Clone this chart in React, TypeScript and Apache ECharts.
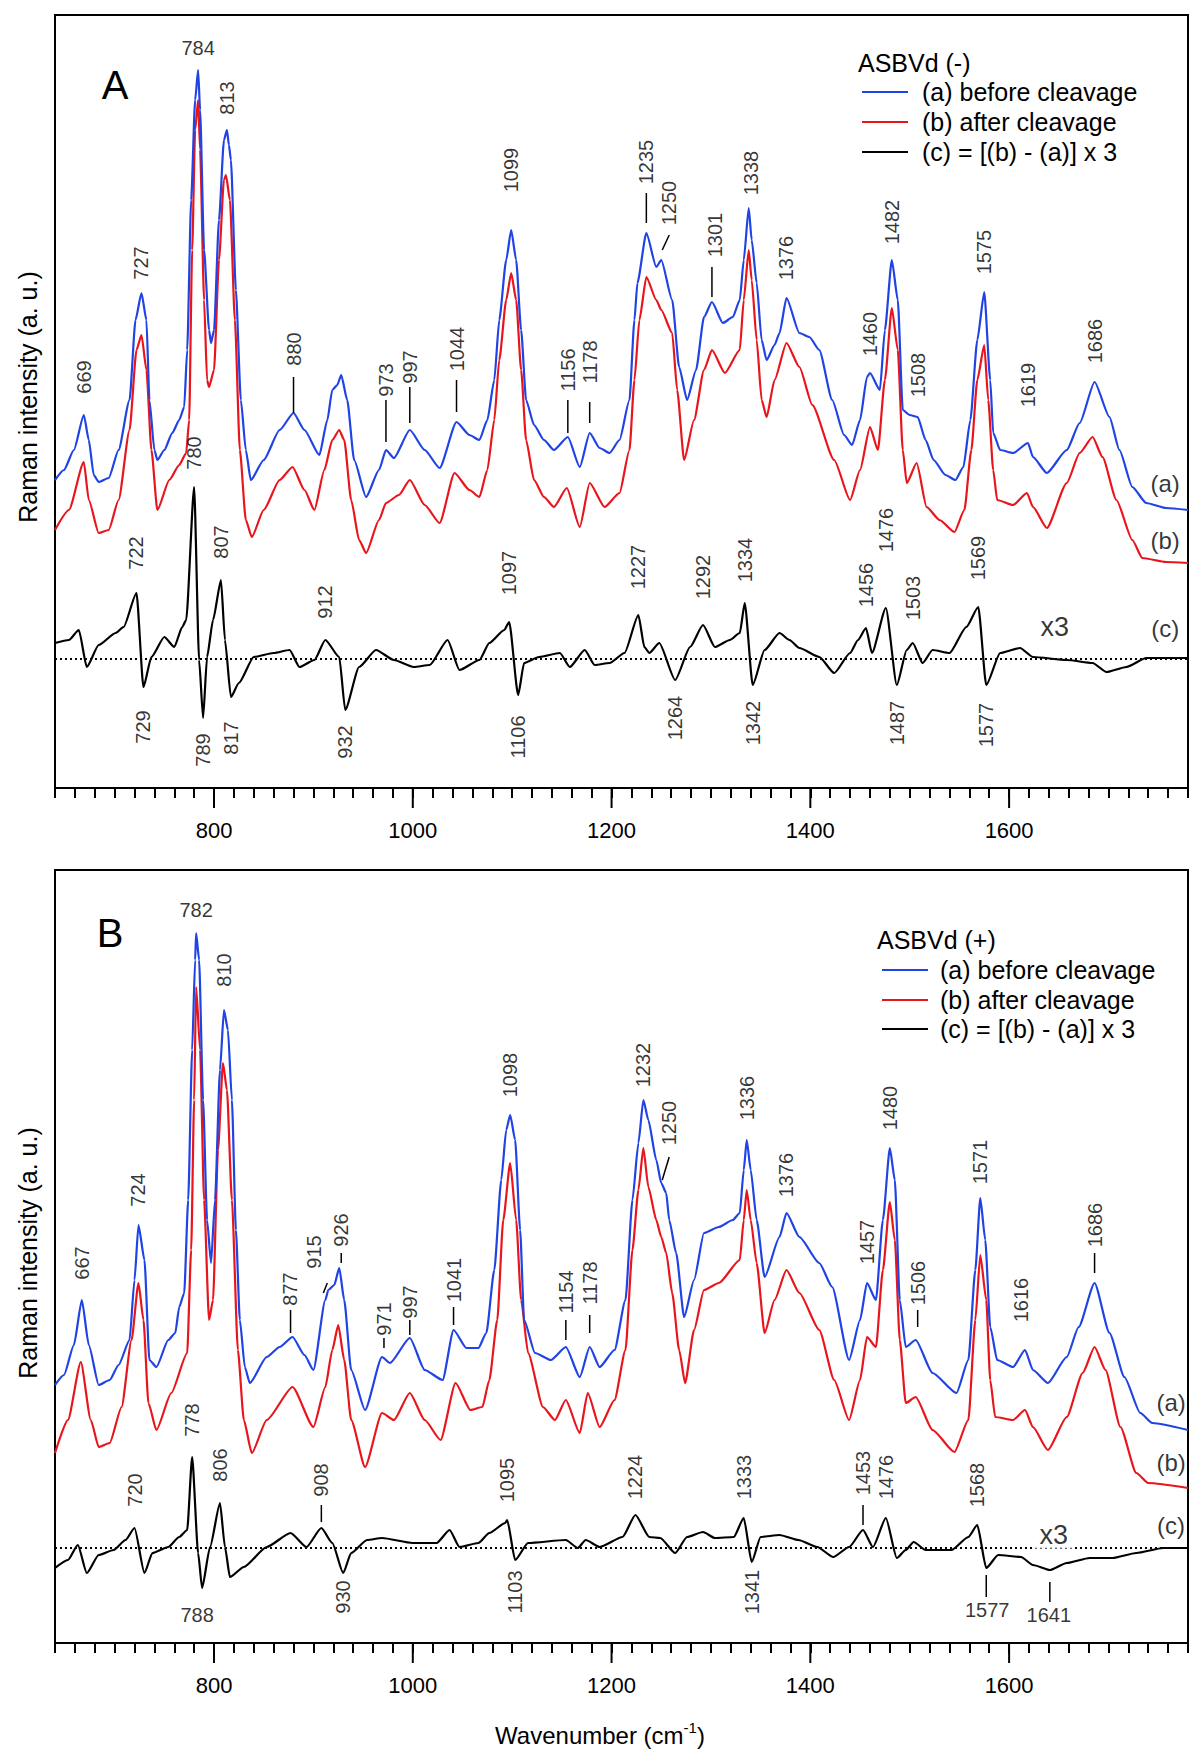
import React, { useEffect, useRef } from "react";
import * as echarts from "echarts";

type Pt = [number, number];
type Lbl = [number, number, string];
type Seg = [number, number, number, number];

const X_MIN = 640;
const X_MAX = 1780;
const X_MINOR_STEP = 20;
const X_MAJOR_TICKS = [800, 1000, 1200, 1400, 1600];
const Y_MAX = 773;

const BLUE = "#1f43e4";
const RED = "#e8161c";
const BLACK = "#000000";
const FONT = "'Liberation Sans', Arial, Helvetica, sans-serif";

const LEGEND_NAMES = ["(a) before cleavage", "(b) after cleavage", "(c) = [(b) - (a)] x 3"];
const PANEL_TITLES = ["ASBVd (-)", "ASBVd (+)"];
const PANEL_LETTERS = ["A", "B"];

// ---------------- Panel A (ASBVd (-)) ----------------
const A_BEFORE: Pt[] = [[640,308],[649,318],[659,338],[669,373],[674,348],[679,313],[684,306],[694,310],[704,338],[715,388],[721,468],[727,495],[732,468],[735,388],[740,338],[743,328],[750,338],[758,355],[765,368],[770,381],[773,438],[777,588],[781,688],[784,718],[786,678],[790,538],[795,458],[797,445],[800,458],[805,568],[810,648],[813,658],[815,643],[817,628],[822,498],[827,388],[832,338],[837,308],[850,328],[866,358],[880,375],[891,358],[906,333],[914,368],[919,398],[924,403],[928,413],[934,388],[941,328],[953,291],[966,318],[973,338],[981,330],[997,358],[1012,338],[1027,320],[1044,366],[1057,353],[1067,348],[1075,368],[1082,408],[1087,468],[1094,528],[1099,558],[1104,528],[1109,458],[1114,388],[1122,363],[1132,348],[1142,338],[1156,351],[1168,321],[1178,355],[1188,340],[1198,335],[1208,348],[1218,388],[1223,468],[1226,505],[1235,555],[1245,521],[1250,528],[1261,488],[1268,421],[1276,388],[1285,418],[1293,471],[1301,486],[1312,465],[1322,471],[1329,488],[1333,528],[1338,580],[1341,548],[1346,505],[1351,448],[1356,428],[1364,443],[1369,455],[1376,490],[1389,455],[1399,451],[1409,438],[1422,388],[1434,353],[1442,343],[1450,368],[1457,411],[1460,415],[1470,398],[1475,458],[1482,528],[1488,488],[1493,378],[1500,373],[1508,371],[1516,348],[1524,328],[1536,313],[1546,308],[1554,321],[1561,368],[1568,448],[1575,496],[1581,408],[1584,355],[1591,338],[1604,335],[1619,345],[1624,331],[1638,315],[1658,338],[1671,365],[1686,406],[1701,371],[1711,338],[1724,301],[1738,285],[1758,280],[1780,278]];

const A_AFTER: Pt[] = [[640,258],[654,278],[669,326],[674,288],[684,255],[694,258],[704,288],[715,358],[722,438],[727,453],[732,418],[737,338],[743,278],[755,308],[765,323],[772,335],[775,368],[778,538],[781,658],[784,688],[786,638],[790,488],[793,408],[795,401],[800,418],[805,528],[810,608],[812,613],[816,588],[821,468],[826,338],[832,268],[838,251],[850,278],[866,308],[879,321],[891,298],[901,278],[911,318],[919,348],[926,358],[931,348],[938,288],[946,248],[953,235],[966,268],[973,285],[986,293],[997,308],[1012,283],[1027,265],[1042,315],[1057,298],[1067,291],[1075,318],[1082,368],[1087,428],[1094,488],[1099,515],[1104,488],[1109,418],[1114,348],[1122,308],[1132,291],[1142,281],[1155,300],[1168,261],[1178,305],[1193,281],[1208,295],[1218,338],[1223,408],[1228,468],[1235,511],[1245,488],[1250,478],[1261,455],[1266,398],[1273,328],[1283,368],[1293,418],[1301,438],[1314,415],[1329,438],[1333,488],[1338,538],[1341,508],[1346,448],[1351,388],[1356,371],[1364,408],[1376,445],[1389,421],[1402,383],[1424,328],[1440,288],[1450,318],[1460,361],[1468,338],[1475,408],[1482,480],[1488,438],[1493,338],[1497,305],[1507,325],[1517,281],[1530,268],[1545,256],[1555,278],[1562,338],[1568,408],[1575,443],[1579,388],[1584,318],[1588,288],[1604,283],[1618,295],[1624,281],[1638,260],[1658,305],[1671,335],[1684,351],[1694,331],[1708,288],[1724,248],[1734,230],[1758,226],[1780,225]];

const A_DIFF: Pt[] = [[640,145],[654,148],[664,158],[672,121],[684,143],[701,155],[709,161],[722,195],[729,101],[737,131],[750,151],[760,141],[768,161],[772,168],[780,301],[785,128],[789,70],[793,131],[799,168],[807,208],[811,148],[817,91],[825,105],[840,131],[860,135],[876,138],[886,121],[901,128],[912,148],[926,131],[932,78],[946,121],[963,138],[981,128],[1001,121],[1017,123],[1035,148],[1047,118],[1067,128],[1077,145],[1092,158],[1097,166],[1106,93],[1112,125],[1127,131],[1148,135],[1158,121],[1173,138],[1183,123],[1198,125],[1213,135],[1227,173],[1233,141],[1238,135],[1248,145],[1264,108],[1279,141],[1292,163],[1304,141],[1319,148],[1329,155],[1334,185],[1342,103],[1354,138],[1369,155],[1379,148],[1389,140],[1409,131],[1424,115],[1440,135],[1448,148],[1456,160],[1462,135],[1476,180],[1487,103],[1497,138],[1503,145],[1513,125],[1523,138],[1540,135],[1557,161],[1569,181],[1577,103],[1591,135],[1611,140],[1624,131],[1658,128],[1684,125],[1698,116],[1718,121],[1738,130],[1780,130]];
const A_BASELINE = 129;

const A_LABELS_V: Lbl[] = [[669,411,"669"],[727,525,"727"],[813,690,"813"],[880,439,"880"],[973,408,"973"],[997,421,"997"],[1044,439,"1044"],[1099,618,"1099"],[1156,418,"1156"],[1178,426,"1178"],[1235,626,"1235"],[1258,585,"1250"],[1304,553,"1301"],[1340,615,"1338"],[1376,530,"1376"],[1460,454,"1460"],[1482,566,"1482"],[1508,413,"1508"],[1575,536,"1575"],[1619,403,"1619"],[1686,447,"1686"],
  [722,235,"722"],[780,335,"780"],[807,246,"807"],[912,186,"912"],[729,61,"729"],[789,38,"789"],[817,50,"817"],[932,46,"932"],[1097,215,"1097"],[1227,221,"1227"],[1292,211,"1292"],[1334,228,"1334"],[1106,51,"1106"],[1264,70,"1264"],[1342,65,"1342"],[1456,203,"1456"],[1476,258,"1476"],[1503,190,"1503"],[1569,230,"1569"],[1487,65,"1487"],[1577,63,"1577"]];
const A_LABELS_H: Lbl[] = [[784,740,"784"]];
const A_SEGS: Seg[] = [[880,411,880,375],[973,388,973,346],[997,401,997,365],[1044,408,1044,376],[1156,388,1156,355],[1178,386,1178,365],[1235,595,1235,565],[1258,553,1251,538],[1301,521,1301,491]];
const A_TAGS: Lbl[] = [[1757,305,"(a)"],[1757,248,"(b)"],[1757,160,"(c)"]];
const A_X3: Pt = [1646,161];

// ---------------- Panel B (ASBVd (+)) ----------------
const B_BEFORE: Pt[] = [[640,258],[649,268],[659,298],[667,343],[674,298],[684,258],[695,263],[704,278],[715,303],[720,363],[724,418],[730,383],[735,283],[742,276],[754,303],[761,310],[765,336],[770,350],[774,443],[778,593],[781,683],[782,710],[785,683],[789,543],[793,423],[797,380],[801,443],[806,573],[810,633],[814,613],[818,543],[822,413],[826,323],[831,276],[836,260],[853,286],[866,296],[879,306],[891,288],[900,273],[912,343],[915,353],[921,358],[926,375],[931,343],[938,273],[952,233],[969,286],[977,280],[997,305],[1012,273],[1030,263],[1041,313],[1054,295],[1066,295],[1074,310],[1082,373],[1089,463],[1094,513],[1098,528],[1103,503],[1108,413],[1112,323],[1123,290],[1139,283],[1154,296],[1168,266],[1178,296],[1188,276],[1203,293],[1214,343],[1221,443],[1227,500],[1232,543],[1237,523],[1245,483],[1250,460],[1255,450],[1258,423],[1265,390],[1273,326],[1283,363],[1293,410],[1308,416],[1322,423],[1329,430],[1333,473],[1336,503],[1340,473],[1346,423],[1354,366],[1369,406],[1376,430],[1389,406],[1409,380],[1422,356],[1439,283],[1450,323],[1457,360],[1466,343],[1473,423],[1480,495],[1485,463],[1490,343],[1496,296],[1506,303],[1523,270],[1547,250],[1559,283],[1566,373],[1571,445],[1576,403],[1581,316],[1588,283],[1604,276],[1616,293],[1624,273],[1639,260],[1658,286],[1670,316],[1686,360],[1701,310],[1716,266],[1732,230],[1744,220],[1780,213]];

const B_AFTER: Pt[] = [[640,190],[653,223],[666,281],[676,223],[684,196],[695,200],[707,236],[717,303],[724,360],[729,323],[734,240],[742,213],[757,250],[773,290],[777,393],[780,543],[782,656],[786,593],[790,443],[795,323],[799,343],[804,493],[809,580],[813,553],[818,443],[824,293],[830,223],[838,190],[853,223],[879,256],[900,216],[912,256],[919,293],[925,318],[931,283],[938,223],[952,176],[969,230],[981,223],[997,250],[1012,223],[1028,203],[1043,260],[1058,233],[1070,236],[1077,263],[1085,323],[1091,423],[1098,480],[1104,423],[1109,343],[1116,290],[1131,236],[1143,223],[1154,243],[1168,210],[1176,250],[1188,216],[1203,243],[1214,293],[1221,393],[1227,453],[1232,495],[1237,456],[1245,423],[1250,406],[1255,390],[1261,350],[1268,293],[1274,260],[1283,313],[1293,353],[1308,360],[1329,383],[1333,423],[1336,453],[1340,423],[1346,380],[1354,310],[1364,343],[1376,373],[1389,350],[1409,313],[1424,263],[1439,223],[1450,263],[1457,306],[1466,296],[1473,373],[1480,441],[1485,403],[1490,303],[1496,240],[1506,246],[1523,213],[1545,191],[1559,223],[1566,323],[1571,388],[1577,343],[1581,263],[1586,226],[1604,223],[1616,233],[1624,216],[1639,193],[1658,226],[1674,270],[1686,296],[1697,273],[1712,216],[1728,170],[1740,160],[1780,155]];

const B_DIFF: Pt[] = [[640,75],[653,83],[663,98],[672,70],[684,88],[699,93],[711,103],[720,115],[730,70],[738,90],[754,96],[765,106],[773,113],[778,186],[784,90],[788,55],[796,96],[806,140],[811,96],[816,66],[830,76],[853,96],[877,110],[893,96],[908,115],[919,100],[930,70],[938,90],[954,103],[969,105],[1000,100],[1024,100],[1037,113],[1047,96],[1066,100],[1077,110],[1093,120],[1095,123],[1103,83],[1116,100],[1154,103],[1166,95],[1174,103],[1188,96],[1211,106],[1224,128],[1238,106],[1249,105],[1264,90],[1276,106],[1292,111],[1304,105],[1323,106],[1333,125],[1341,81],[1350,106],[1369,108],[1388,103],[1407,96],[1423,86],[1439,96],[1453,113],[1463,96],[1476,125],[1487,85],[1496,93],[1504,101],[1516,93],[1542,93],[1559,106],[1568,118],[1577,75],[1589,88],[1612,86],[1624,78],[1641,73],[1658,80],[1681,85],[1704,85],[1728,90],[1755,95],[1780,95]];
const B_BASELINE = 95;

const B_LABELS_V: Lbl[] = [[667,380,"667"],[724,453,"724"],[810,673,"810"],[876,354,"877"],[901,391,"915"],[928,413,"926"],[971,324,"971"],[997,341,"997"],[1041,363,"1041"],[1098,568,"1098"],[1154,351,"1154"],[1178,360,"1178"],[1232,578,"1232"],[1258,520,"1250"],[1336,545,"1336"],[1376,468,"1376"],[1457,401,"1457"],[1480,535,"1480"],[1508,360,"1506"],[1571,481,"1571"],[1612,343,"1616"],[1686,418,"1686"],
  [778,223,"778"],[806,178,"806"],[720,153,"720"],[908,163,"908"],[930,46,"930"],[1095,163,"1095"],[1103,51,"1103"],[1224,166,"1224"],[1333,166,"1333"],[1453,170,"1453"],[1476,166,"1476"],[1568,158,"1568"],[1341,51,"1341"]];
const B_LABELS_H: Lbl[] = [[782,733,"782"],[783,28,"788"],[1578,33,"1577"],[1640,28,"1641"]];
const B_SEGS: Seg[] = [[877,333,877,310],[910,350,914,360],[928,390,928,380],[971,305,971,295],[997,323,997,308],[1041,336,1041,318],[1154,323,1154,303],[1178,328,1178,310],[1258,486,1251,463],[1508,333,1508,316],[1686,390,1686,370],[908,138,908,121],[1453,138,1453,118],[1577,68,1577,46],[1641,61,1641,41]];
const B_TAGS: Lbl[] = [[1763,241,"(a)"],[1763,181,"(b)"],[1763,118,"(c)"]];
const B_X3: Pt = [1645,108];

const PANELS = [
  { before: A_BEFORE, after: A_AFTER, diff: A_DIFF, base: A_BASELINE, lv: A_LABELS_V, lh: A_LABELS_H, segs: A_SEGS, tags: A_TAGS, x3: A_X3, x3bg: false },
  { before: B_BEFORE, after: B_AFTER, diff: B_DIFF, base: B_BASELINE, lv: B_LABELS_V, lh: B_LABELS_H, segs: B_SEGS, tags: B_TAGS, x3: B_X3, x3bg: true },
];

const GRID_TOPS = [15, 870];
const GRID_LEFT = 55;
const GRID_W = 1133;
const GRID_H = 773;

function textStyle(size: number) {
  return { fontSize: size, color: "#000", fontFamily: FONT };
}

function buildOption() {
  const series: any[] = [];
  PANELS.forEach((P, p) => {
    const common = { xAxisIndex: p, yAxisIndex: p };
    const lineCommon = { type: "line", symbol: "none", smooth: 0.2, smoothMonotone: "x" };
    series.push({ ...common, ...lineCommon, name: LEGEND_NAMES[0], data: P.before, lineStyle: { color: BLUE, width: 2.2 }, itemStyle: { color: BLUE }, z: 4 });
    series.push({ ...common, ...lineCommon, name: LEGEND_NAMES[1], data: P.after, lineStyle: { color: RED, width: 2.2 }, itemStyle: { color: RED }, z: 3 });
    series.push({ ...common, ...lineCommon, name: LEGEND_NAMES[2], data: P.diff, lineStyle: { color: BLACK, width: 2.2 }, itemStyle: { color: BLACK }, z: 4 });
    series.push({ ...common, type: "line", data: [[X_MIN, P.base], [X_MAX, P.base]], symbol: "none", lineStyle: { color: BLACK, width: 2, type: [2, 3] }, z: 2, silent: true });
    series.push({
      ...common, type: "scatter", symbolSize: 1, itemStyle: { color: "rgba(0,0,0,0)" }, silent: true, z: 6,
      data: P.lv.map(([x, y, t]) => ({ value: [x, y], name: t })),
      label: { show: true, position: "inside", rotate: 90, formatter: "{b}", ...textStyle(20) },
    });
    series.push({
      ...common, type: "scatter", symbolSize: 1, itemStyle: { color: "rgba(0,0,0,0)" }, silent: true, z: 6,
      data: P.lh.map(([x, y, t]) => ({ value: [x, y], name: t })),
      label: { show: true, position: "inside", formatter: "{b}", ...textStyle(20) },
    });
    series.push({
      ...common, type: "scatter", symbolSize: 1, itemStyle: { color: "rgba(0,0,0,0)" }, silent: true, z: 6,
      data: P.tags.map(([x, y, t]) => ({ value: [x, y], name: t })),
      label: { show: true, position: "inside", formatter: "{b}", ...textStyle(24) },
    });
    series.push({
      ...common, type: "scatter", symbolSize: 1, itemStyle: { color: "rgba(0,0,0,0)" }, silent: true, z: 6,
      data: [{ value: P.x3, name: "x3" }],
      label: { show: true, position: "inside", formatter: "{b}", ...textStyle(27), backgroundColor: P.x3bg ? "#fff" : "transparent", padding: [0, 6] },
    });
    series.push({
      ...common, type: "custom", silent: true, z: 5,
      data: P.segs, encode: { x: [0, 2], y: [1, 3] },
      renderItem: (params: any, api: any) => {
        const a = api.coord([api.value(0), api.value(1)]);
        const b = api.coord([api.value(2), api.value(3)]);
        return { type: "line", shape: { x1: a[0], y1: a[1], x2: b[0], y2: b[1] }, style: { stroke: "#000", lineWidth: 1.5 } };
      },
    });
    series.push({
      ...common, type: "custom", silent: true, clip: false, z: 5,
      data: X_MAJOR_TICKS.map((v) => [v, 0]), encode: { x: 0, y: 1 },
      renderItem: (params: any, api: any) => {
        const c = api.coord([api.value(0), api.value(1)]);
        return { type: "line", shape: { x1: c[0], y1: c[1], x2: c[0], y2: c[1] + 20 }, style: { stroke: "#000", lineWidth: 2 } };
      },
    });
  });

  const grids = GRID_TOPS.map((t) => ({
    left: GRID_LEFT, top: t, width: GRID_W, height: GRID_H,
    show: true, borderColor: "#000", borderWidth: 2, backgroundColor: "transparent",
  }));

  const xAxes = GRID_TOPS.map((_, g) => ({
    type: "value", gridIndex: g, min: X_MIN, max: X_MAX, interval: X_MINOR_STEP,
    axisLine: { show: true, lineStyle: { color: "#000", width: 2 } },
    axisTick: { show: true, length: 10, lineStyle: { color: "#000", width: 2 } },
    axisLabel: { show: true, margin: 31, ...textStyle(22), formatter: (v: number) => (X_MAJOR_TICKS.includes(Math.round(v)) ? String(Math.round(v)) : "") },
    splitLine: { show: false },
  }));

  const yAxes = GRID_TOPS.map((_, g) => ({
    type: "value", gridIndex: g, min: 0, max: Y_MAX, show: false, splitLine: { show: false },
  }));

  const graphic: any[] = [];
  const legendPos = [
    { tx: 858, ty: 63, lx: 862, ly: [92, 122, 152], txt: 922 },
    { tx: 877, ty: 940, lx: 882, ly: [970, 1000, 1029], txt: 940 },
  ];
  const colors = [BLUE, RED, BLACK];
  legendPos.forEach((L, p) => {
    graphic.push({ type: "text", x: L.tx, y: L.ty, silent: true, style: { text: PANEL_TITLES[p], align: "left", verticalAlign: "middle", fontSize: 25, fill: "#000", fontFamily: FONT } });
    LEGEND_NAMES.forEach((n, i) => {
      graphic.push({ type: "line", silent: true, shape: { x1: L.lx, y1: L.ly[i], x2: L.lx + 46, y2: L.ly[i] }, style: { stroke: colors[i], lineWidth: 2 } });
      graphic.push({ type: "text", x: L.txt, y: L.ly[i], silent: true, style: { text: n, align: "left", verticalAlign: "middle", fontSize: 25, fill: "#000", fontFamily: FONT } });
    });
  });
  graphic.push({ type: "text", x: 115, y: 85, silent: true, style: { text: PANEL_LETTERS[0], align: "center", verticalAlign: "middle", fontSize: 40, fill: "#000", fontFamily: FONT } });
  graphic.push({ type: "text", x: 110, y: 933, silent: true, style: { text: PANEL_LETTERS[1], align: "center", verticalAlign: "middle", fontSize: 40, fill: "#000", fontFamily: FONT } });
  [397, 1253].forEach((cy) => {
    graphic.push({ type: "text", x: 28, y: cy, rotation: Math.PI / 2, silent: true, style: { text: "Raman intensity (a. u.)", align: "center", verticalAlign: "middle", fontSize: 25, fill: "#000", fontFamily: FONT } });
  });
  graphic.push({
    type: "text", x: 600, y: 1735, silent: true,
    style: {
      text: "{a|Wavenumber (cm}{s|-1}{a|)}", align: "center", verticalAlign: "middle", fill: "#000", fontFamily: FONT,
      rich: { a: { fontSize: 24, fontFamily: FONT, fill: "#000", lineHeight: 30 }, s: { fontSize: 15, fontFamily: FONT, fill: "#000", verticalAlign: "top", lineHeight: 30, padding: [0, 0, 14, 0] } },
    },
  });

  return {
    animation: false,
    backgroundColor: "#fff",
    grid: grids,
    xAxis: xAxes,
    yAxis: yAxes,
    series,
    graphic,
  };
}

export default function App() {
  const ref = useRef<HTMLDivElement>(null);
  useEffect(() => {
    document.body.style.margin = "0";
    if (!ref.current) return;
    const chart = echarts.init(ref.current, undefined, { renderer: "svg" });
    chart.setOption(buildOption() as any);
    return () => chart.dispose();
  }, []);
  return <div ref={ref} style={{ width: 1200, height: 1758 }} />;
}
